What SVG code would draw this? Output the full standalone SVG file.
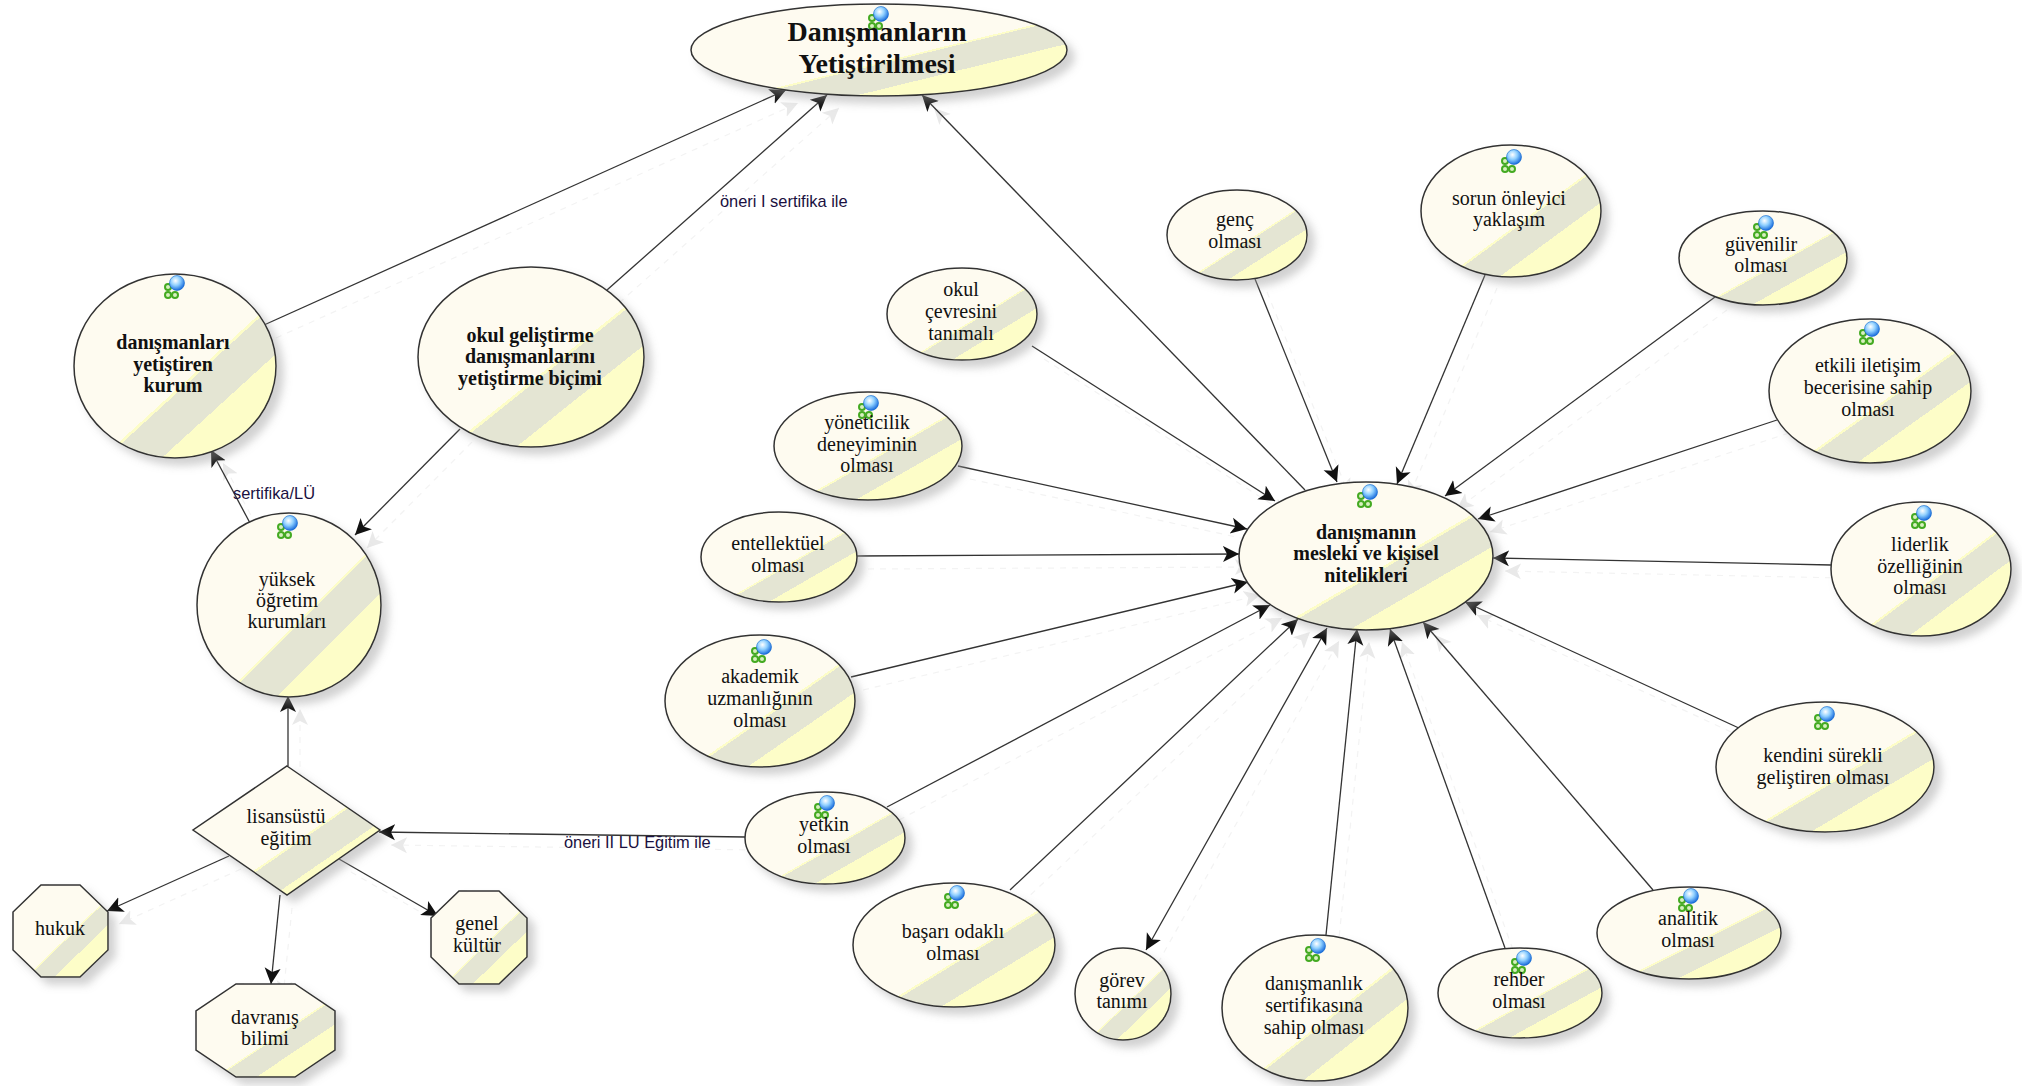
<svg xmlns="http://www.w3.org/2000/svg" width="2022" height="1086" viewBox="0 0 2022 1086">
<style>
text{font-family:"Liberation Serif","Times New Roman",serif;font-size:20px;fill:#111;text-anchor:middle}
.b{font-weight:bold}
.r{font-size:28px;font-weight:bold}
.e{font-family:"Liberation Sans",Arial,sans-serif;font-size:16.4px;fill:#1a1040;text-anchor:start}
.s{fill:url(#band);stroke:#333;stroke-width:1.5;filter:url(#sh)}
#connectors{stroke:#333;stroke-width:1.3;fill:none;marker-end:url(#ah)}
.ghost{stroke:#f3f3f3;stroke-width:1.2;stroke-dasharray:6 6;fill:none;marker-end:url(#gh)}
</style>
<defs>
<linearGradient id="band" x1="0" y1="0" x2="1" y2="1">
<stop offset="0" stop-color="#fefbf0"/><stop offset=".568" stop-color="#fefbf0"/>
<stop offset=".568" stop-color="#fdfdc8"/><stop offset=".578" stop-color="#fdfdc8"/>
<stop offset=".578" stop-color="#e4e5d3"/><stop offset=".717" stop-color="#e4e5d3"/>
<stop offset=".717" stop-color="#fdfdc8"/><stop offset="1" stop-color="#fdfdc8"/>
</linearGradient>
<radialGradient id="ball" cx=".4" cy=".35" r=".7"><stop offset="0" stop-color="#fff"/><stop offset=".45" stop-color="#8fd0ff"/><stop offset="1" stop-color="#0a5fd8"/></radialGradient>
<filter id="sh" x="-15%" y="-15%" width="135%" height="135%"><feDropShadow dx="7" dy="7" stdDeviation="4" flood-color="#999" flood-opacity=".45"/></filter>
<marker id="ah" markerUnits="userSpaceOnUse" markerWidth="20" markerHeight="20" refX="16" refY="9" orient="auto"><path d="M16,9L0,1L4,9L0,17Z" fill="#111" stroke="none"/></marker>
<marker id="as" markerUnits="userSpaceOnUse" markerWidth="20" markerHeight="20" refX="16" refY="9" orient="auto-start-reverse"><path d="M16,9L0,1L4,9L0,17Z" fill="#111" stroke="none"/></marker>
<marker id="gh" markerUnits="userSpaceOnUse" markerWidth="20" markerHeight="20" refX="16" refY="9" orient="auto"><path d="M16,9L0,1L4,9L0,17Z" fill="#e9e9e9" stroke="none"/></marker>
<symbol id="ic" viewBox="0 0 24 24" overflow="visible">
<g fill="#d8f0c0" stroke="#44aa22" stroke-width="2"><circle cx="5" cy="12" r="3"/><circle cx="5" cy="20" r="3"/><circle cx="12" cy="20" r="3"/></g>
<circle cx="14" cy="8" r="7.5" fill="url(#ball)" stroke="#1166cc" stroke-width=".6"/>
</symbol>
</defs>

<g id="connector-ghosts">
<use href="#edges" class="ghost" transform="translate(12 13)"/>
<line class="ghost" x1="1158" y1="963" x2="1339" y2="641"/>
</g>
<g id="connectors">
<g id="edges">
<line x1="264" y1="325" x2="786" y2="90"/>
<line x1="607" y1="290" x2="827" y2="95"/>
<line x1="1305" y1="490" x2="922" y2="95"/>
<line x1="460" y1="429" x2="355" y2="535"/>
<line x1="250" y1="523" x2="211" y2="450"/>
<line x1="288" y1="766" x2="288" y2="696"/>
<line x1="229" y1="856" x2="107" y2="911"/>
<line x1="280" y1="895" x2="271" y2="984"/>
<line x1="339" y1="859" x2="438" y2="916"/>
<line x1="745" y1="837" x2="379" y2="832"/>
<line x1="1032" y1="346" x2="1275" y2="501"/>
<line x1="1255" y1="279" x2="1337" y2="482"/>
<line x1="1485" y1="275" x2="1397" y2="484"/>
<line x1="1715" y1="297" x2="1445" y2="496"/>
<line x1="1777" y1="420" x2="1478" y2="519"/>
<line x1="1831" y1="565" x2="1493" y2="558"/>
<line x1="1741" y1="729" x2="1465" y2="602"/>
<line x1="1653" y1="890" x2="1423" y2="622"/>
<line x1="1505" y1="948" x2="1390" y2="629"/>
<line x1="1326" y1="935" x2="1357" y2="629"/>
<line x1="1010" y1="890" x2="1298" y2="619"/>
<line x1="887" y1="807" x2="1270" y2="605"/>
<line x1="851" y1="677" x2="1248" y2="582"/>
<line x1="856" y1="556" x2="1239" y2="554"/>
<line x1="958" y1="466" x2="1247" y2="529"/>
</g>
<line x1="1146" y1="950" x2="1327" y2="628" marker-start="url(#as)"/>
</g>

<g id="n-root"><ellipse class="s" cx="879" cy="50" rx="188" ry="46"/><use href="#ic" x="867" y="6" width="24" height="24"/><text class="r"><tspan x="877" y="41">Danışmanların</tspan><tspan x="877" y="73">Yetiştirilmesi</tspan></text></g>
<g id="n-kurum"><ellipse class="s" cx="175" cy="366" rx="101" ry="92"/><use href="#ic" x="163" y="275" width="24" height="24"/><text class="b"><tspan x="173" y="349">danışmanları</tspan><tspan x="173" y="371">yetiştiren</tspan><tspan x="173" y="392">kurum</tspan></text></g>
<g id="n-bicim"><ellipse class="s" cx="531" cy="357" rx="113" ry="90"/><text class="b"><tspan x="530" y="342">okul geliştirme</tspan><tspan x="530" y="363">danışmanlarını</tspan><tspan x="530" y="385">yetiştirme biçimi</tspan></text></g>
<g id="n-yuksek"><ellipse class="s" cx="289" cy="605" rx="92" ry="92"/><use href="#ic" x="276" y="515" width="24" height="24"/><text><tspan x="287" y="586">yüksek</tspan><tspan x="287" y="607">öğretim</tspan><tspan x="287" y="628">kurumları</tspan></text></g>
<g id="n-lisans"><polygon class="s" points="287,766 380,830 287,895 193,830"/><text><tspan x="286" y="823">lisansüstü</tspan><tspan x="286" y="845">eğitim</tspan></text></g>
<g id="n-hukuk"><polygon class="s" points="41,885 80,885 108,912 108,950 80,977 41,977 13,950 13,912"/><text x="60" y="935">hukuk</text></g>
<g id="n-davranis"><polygon class="s" points="236,984 295,984 335,1011 335,1050 295,1077 236,1077 196,1050 196,1011"/><text><tspan x="265" y="1024">davranış</tspan><tspan x="265" y="1045">bilimi</tspan></text></g>
<g id="n-genel"><polygon class="s" points="459,891 499,891 527,918 527,957 499,984 459,984 431,957 431,918"/><text><tspan x="477" y="930">genel</tspan><tspan x="477" y="952">kültür</tspan></text></g>

<g id="n-center"><ellipse class="s" cx="1366" cy="556" rx="127" ry="74"/><use href="#ic" x="1356" y="484" width="24" height="24"/><text class="b"><tspan x="1366" y="539">danışmanın</tspan><tspan x="1366" y="560">mesleki ve kişisel</tspan><tspan x="1366" y="582">nitelikleri</tspan></text></g>
<g id="n-genc"><ellipse class="s" cx="1237" cy="235" rx="70" ry="45"/><text><tspan x="1235" y="226">genç</tspan><tspan x="1235" y="248">olması</tspan></text></g>
<g id="n-sorun"><ellipse class="s" cx="1511" cy="211" rx="90" ry="66"/><use href="#ic" x="1500" y="149" width="24" height="24"/><text><tspan x="1509" y="205">sorun önleyici</tspan><tspan x="1509" y="226">yaklaşım</tspan></text></g>
<g id="n-guven"><ellipse class="s" cx="1763" cy="258" rx="84" ry="47"/><use href="#ic" x="1752" y="215" width="24" height="24"/><text><tspan x="1761" y="251">güvenilir</tspan><tspan x="1761" y="272">olması</tspan></text></g>
<g id="n-etkili"><ellipse class="s" cx="1870" cy="391" rx="101" ry="72"/><use href="#ic" x="1858" y="321" width="24" height="24"/><text><tspan x="1868" y="372">etkili iletişim</tspan><tspan x="1868" y="394">becerisine sahip</tspan><tspan x="1868" y="416">olması</tspan></text></g>
<g id="n-lider"><ellipse class="s" cx="1921" cy="569" rx="90" ry="67"/><use href="#ic" x="1910" y="505" width="24" height="24"/><text><tspan x="1920" y="551">liderlik</tspan><tspan x="1920" y="573">özelliğinin</tspan><tspan x="1920" y="594">olması</tspan></text></g>
<g id="n-kendini"><ellipse class="s" cx="1825" cy="767" rx="109" ry="65"/><use href="#ic" x="1813" y="706" width="24" height="24"/><text><tspan x="1823" y="762">kendini sürekli</tspan><tspan x="1823" y="784">geliştiren olması</tspan></text></g>
<g id="n-analitik"><ellipse class="s" cx="1689" cy="933" rx="92" ry="46"/><use href="#ic" x="1677" y="888" width="24" height="24"/><text><tspan x="1688" y="925">analitik</tspan><tspan x="1688" y="947">olması</tspan></text></g>
<g id="n-rehber"><ellipse class="s" cx="1520" cy="993" rx="82" ry="45"/><use href="#ic" x="1510" y="950" width="24" height="24"/><text><tspan x="1519" y="986">rehber</tspan><tspan x="1519" y="1008">olması</tspan></text></g>
<g id="n-sertifika"><ellipse class="s" cx="1315" cy="1008" rx="93" ry="73"/><use href="#ic" x="1304" y="938" width="24" height="24"/><text><tspan x="1314" y="990">danışmanlık</tspan><tspan x="1314" y="1012">sertifikasına</tspan><tspan x="1314" y="1034">sahip olması</tspan></text></g>
<g id="n-gorev"><ellipse class="s" cx="1123" cy="994" rx="48" ry="46"/><text><tspan x="1122" y="987">görev</tspan><tspan x="1122" y="1008">tanımı</tspan></text></g>
<g id="n-basari"><ellipse class="s" cx="954" cy="945" rx="101" ry="62"/><use href="#ic" x="943" y="885" width="24" height="24"/><text><tspan x="953" y="938">başarı odaklı</tspan><tspan x="953" y="960">olması</tspan></text></g>
<g id="n-yetkin"><ellipse class="s" cx="825" cy="838" rx="80" ry="46"/><use href="#ic" x="813" y="795" width="24" height="24"/><text><tspan x="824" y="831">yetkin</tspan><tspan x="824" y="853">olması</tspan></text></g>
<g id="n-akademik"><ellipse class="s" cx="760" cy="701" rx="95" ry="66"/><use href="#ic" x="750" y="639" width="24" height="24"/><text><tspan x="760" y="683">akademik</tspan><tspan x="760" y="705">uzmanlığının</tspan><tspan x="760" y="727">olması</tspan></text></g>
<g id="n-entel"><ellipse class="s" cx="779" cy="557" rx="78" ry="45"/><text><tspan x="778" y="550">entellektüel</tspan><tspan x="778" y="572">olması</tspan></text></g>
<g id="n-yonetici"><ellipse class="s" cx="868" cy="446" rx="94" ry="54"/><use href="#ic" x="857" y="395" width="24" height="24"/><text><tspan x="867" y="429">yöneticilik</tspan><tspan x="867" y="451">deneyiminin</tspan><tspan x="867" y="472">olması</tspan></text></g>
<g id="n-cevre"><ellipse class="s" cx="962" cy="314" rx="75" ry="46"/><text><tspan x="961" y="296">okul</tspan><tspan x="961" y="318">çevresini</tspan><tspan x="961" y="340">tanımalı</tspan></text></g>

<g id="edge-labels">
<text class="e" x="720" y="207">öneri I sertifika ile</text>
<text class="e" x="233" y="499">sertifika/LÜ</text>
<text class="e" x="564" y="848">öneri II LU Eğitim ile</text>
</g>
</svg>
